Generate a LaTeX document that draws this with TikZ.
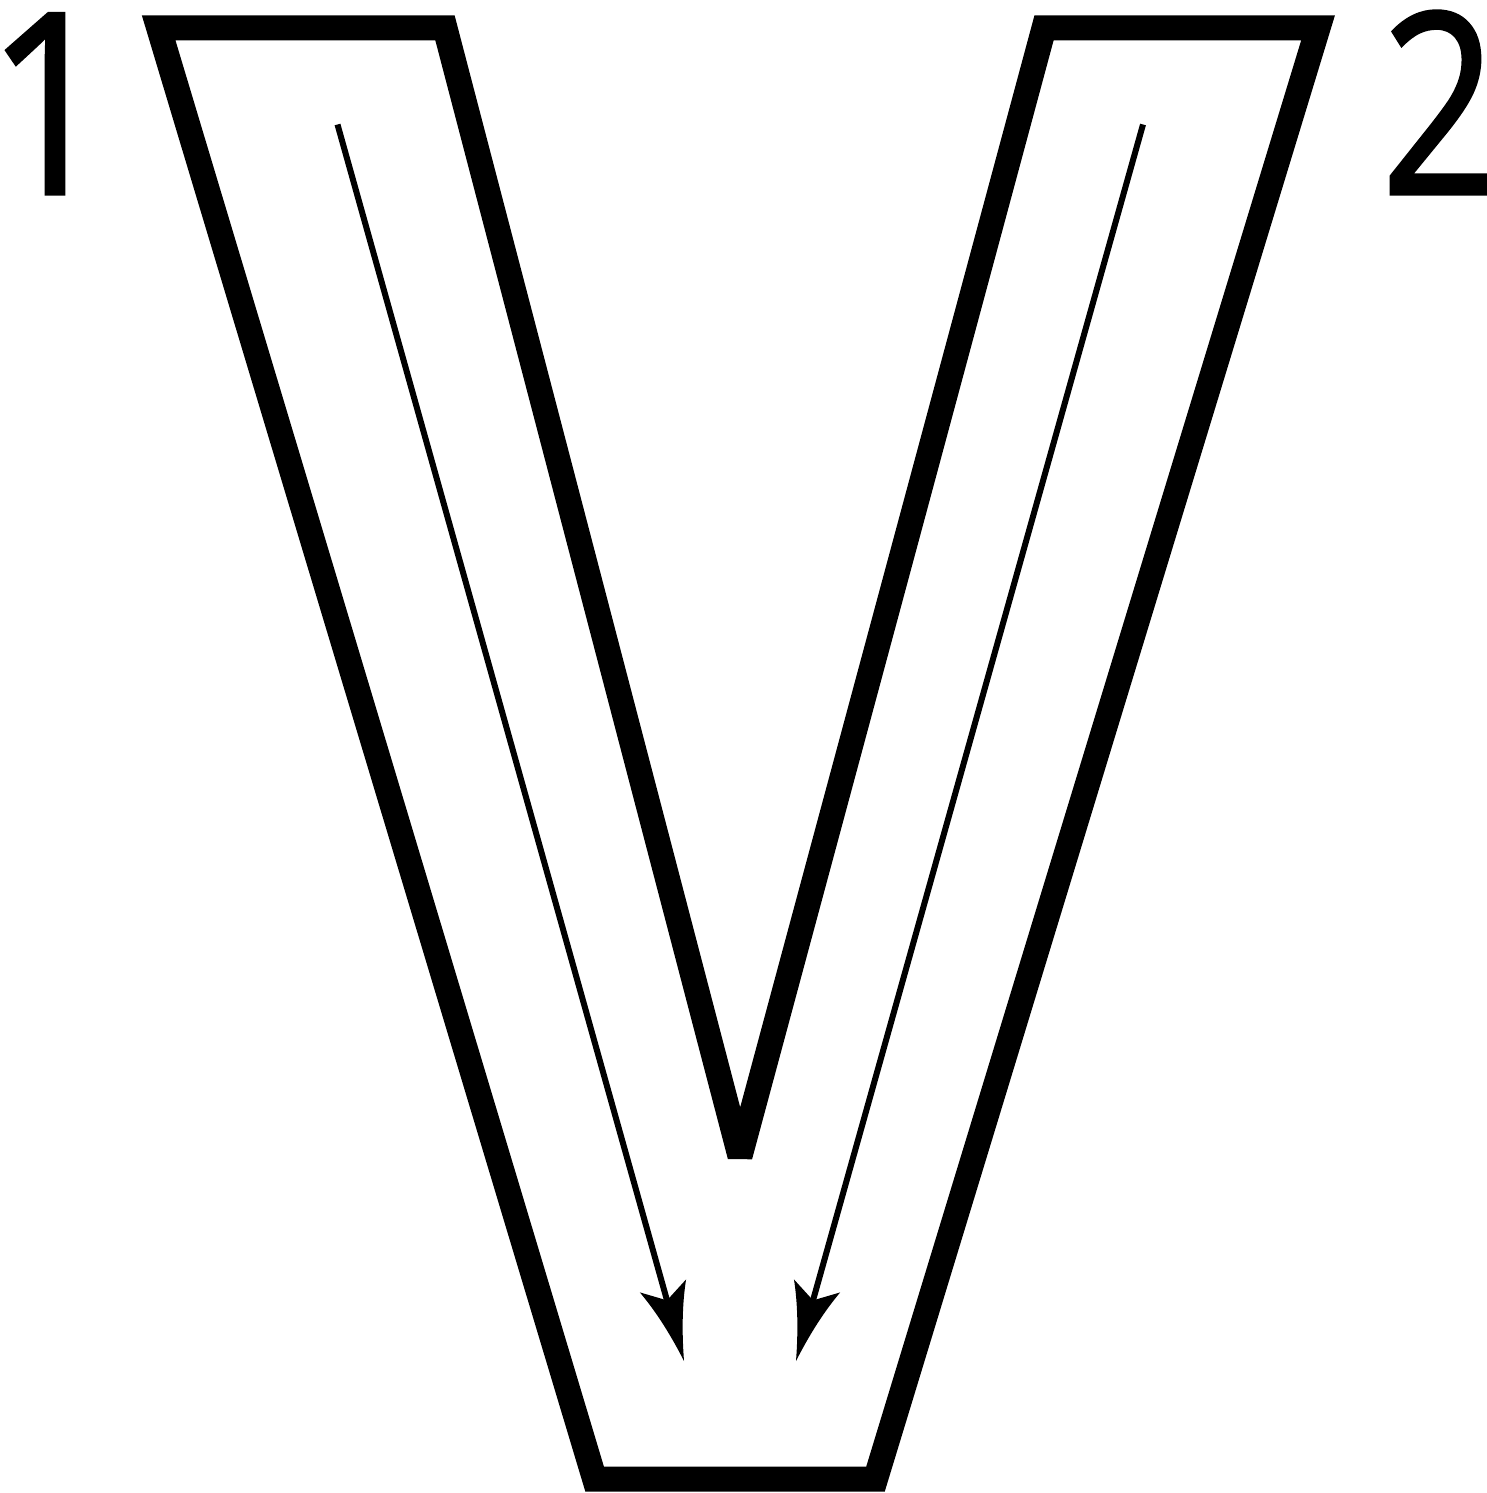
\documentclass[tikz,border=0pt]{standalone}
\usepackage{fontspec}
\setmainfont{Open Sans}
\newfontfamily\onefont[FakeStretch=0.88, FakeBold=1.2]{Open Sans}
\newfontfamily\twofont[FakeStretch=0.80, FakeBold=1.2]{Open Sans}
\usetikzlibrary{calc}
\tikzset{
  vshape/.style={line width=25pt, line join=miter, miter limit=3},
  flowline/.style={line width=6pt, line cap=butt, shorten >=58pt},
  headfill/.style={fill=black, draw=none},
  numlabel/.style={inner sep=0pt, anchor=base}
}
\newcommand{\concavehead}[2]{%
  \fill[headfill] (#1)
    .. controls ($(#1)!30.6pt!11.3:(#2)$) and ($(#1)!57.7pt!14.0:(#2)$) .. ($(#1)!81.6pt!17.1:(#2)$)
    -- ($(#1)!63pt!(#2)$)
    -- ($(#1)!81.6pt!-17.1:(#2)$)
    .. controls ($(#1)!57.7pt!-14.0:(#2)$) and ($(#1)!30.6pt!-11.3:(#2)$) .. (#1) -- cycle;}
\begin{document}
\begin{tikzpicture}[x=1pt,y=-1pt]
\useasboundingbox (0,0) rectangle (1486,1493);
\coordinate (tl1) at (158.7,28);
\coordinate (tr1) at (445,28);
\coordinate (apex) at (740,1156);
\coordinate (tl2) at (1044,28);
\coordinate (tr2) at (1318,28);
\coordinate (br) at (875.5,1479);
\coordinate (bl) at (594.6,1479);
\draw[vshape] (tl1) -- (tr1) -- (apex) -- (tl2) -- (tr2) -- (br) -- (bl) -- cycle;
\coordinate (s1) at (337.5,124.5);
\coordinate (e1) at (684,1361);
\coordinate (s2) at (1143,124.5);
\coordinate (e2) at (796,1361);
\draw[flowline] (s1) -- (e1);
\draw[flowline] (s2) -- (e2);
\concavehead{e1}{s1}
\concavehead{e2}{s2}
\node[numlabel, font=\onefont\fontsize{253}{253}\selectfont] (n1) at (49.7,194) {\makebox[0pt]{1}};
\node[numlabel, font=\twofont\fontsize{253}{253}\selectfont] (n2) at (1439,194) {\makebox[0pt]{2}};
\end{tikzpicture}
\end{document}
